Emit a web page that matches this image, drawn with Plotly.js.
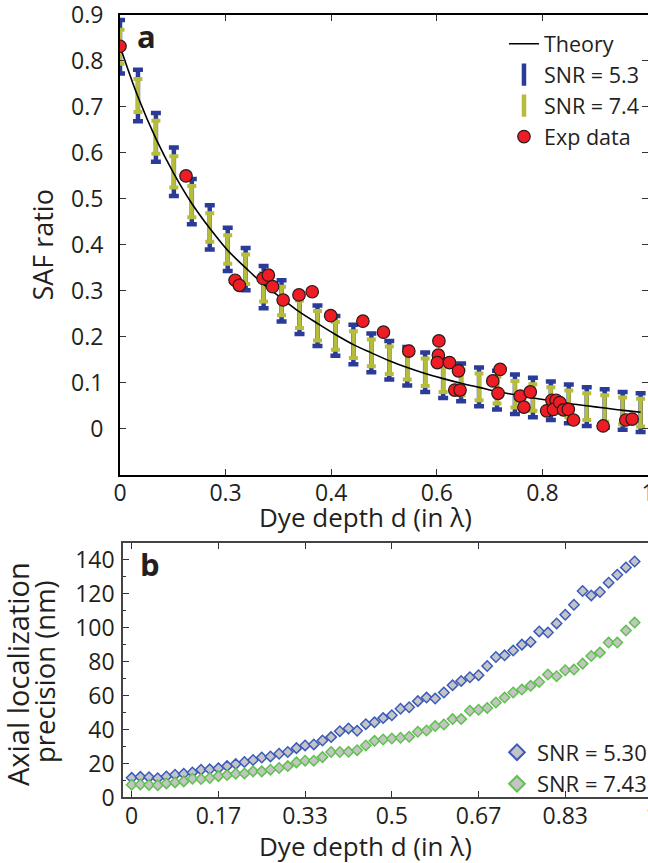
<!DOCTYPE html>
<html>
<head>
<meta charset="utf-8">
<script src="https://cdn.plot.ly/plotly-3.0.1.min.js"></script>
<style>
html,body{margin:0;padding:0;overflow:hidden;background:#fff;}
#chart{width:660px;height:863px;}
</style>
</head>
<body>
<div id="chart"></div>
<script>
// ---------- Panel a: SAF ratio vs dye depth ----------
const simDepth = [0, 0.034, 0.068, 0.102, 0.136, 0.17, 0.204, 0.238, 0.272, 0.306,
  0.34, 0.374, 0.408, 0.442, 0.476, 0.51, 0.544, 0.578, 0.612, 0.646,
  0.68, 0.714, 0.748, 0.782, 0.816, 0.85, 0.884, 0.918, 0.952, 0.986];
const simMean = [0.831, 0.725, 0.634, 0.559, 0.494, 0.438, 0.390, 0.347, 0.308, 0.278,
  0.249, 0.224, 0.202, 0.183, 0.165, 0.149, 0.136, 0.123, 0.109, 0.101,
  0.091, 0.084, 0.075, 0.068, 0.061, 0.054, 0.048, 0.044, 0.039, 0.035];
const errSNR53 = [0.058, 0.056, 0.053, 0.053, 0.049, 0.048, 0.047, 0.046, 0.046, 0.045,
  0.043, 0.044, 0.043, 0.043, 0.042, 0.042, 0.042, 0.043, 0.042, 0.041,
  0.042, 0.042, 0.043, 0.043, 0.042, 0.042, 0.042, 0.042, 0.041, 0.042];
const errSNR74 = [0.037, 0.036, 0.036, 0.034, 0.034, 0.031, 0.031, 0.032, 0.031, 0.031,
  0.030, 0.032, 0.030, 0.029, 0.029, 0.030, 0.029, 0.030, 0.029, 0.028,
  0.029, 0.029, 0.029, 0.029, 0.029, 0.029, 0.029, 0.029, 0.029, 0.030];
const theorySAF = [0.832, 0.722, 0.631, 0.555, 0.490, 0.436, 0.388, 0.350, 0.314, 0.284,
  0.254, 0.229, 0.205, 0.183, 0.165, 0.148, 0.133, 0.120, 0.109, 0.099,
  0.090, 0.081, 0.074, 0.067, 0.061, 0.055, 0.050, 0.045, 0.040, 0.036];
const expDepth = [0, 0.125, 0.218, 0.226, 0.271, 0.281, 0.289, 0.309, 0.339, 0.364,
  0.399, 0.460, 0.499, 0.547, 0.604, 0.603, 0.601, 0.624, 0.641, 0.634,
  0.644, 0.720, 0.706, 0.716, 0.758, 0.777, 0.765, 0.808, 0.818, 0.826,
  0.821, 0.833, 0.840, 0.849, 0.859, 0.915, 0.958, 0.970];
const expSAF = [0.832, 0.550, 0.323, 0.312, 0.327, 0.334, 0.309, 0.280, 0.291, 0.298,
  0.246, 0.234, 0.210, 0.169, 0.191, 0.160, 0.144, 0.144, 0.126, 0.084,
  0.084, 0.129, 0.104, 0.077, 0.071, 0.080, 0.047, 0.039, 0.062, 0.062,
  0.042, 0.057, 0.041, 0.042, 0.019, 0.006, 0.019, 0.021];
const aTickVals = [0, 0.2, 0.4, 0.6, 0.8, 1];
const aTickText = ['0', '0.3', '0.4', '0.6', '0.8', '1'];
const aYTickVals = [0, 0.1, 0.2, 0.3, 0.4, 0.5, 0.6, 0.7, 0.8, 0.9];
const aYTickText = ['0', '0.1', '0.2', '0.3', '0.4', '0.5', '0.6', '0.7', '0.8', '0.9'];

// ---------- Panel b: axial localization precision ----------
const precDepth = [0, 0.0167, 0.0333, 0.05, 0.0667, 0.0833, 0.1, 0.1167, 0.1333, 0.15,
  0.1667, 0.1833, 0.2, 0.2167, 0.2333, 0.25, 0.2667, 0.2833, 0.3, 0.3167,
  0.3333, 0.35, 0.3667, 0.3833, 0.4, 0.4167, 0.4333, 0.45, 0.4667, 0.4833,
  0.5, 0.5167, 0.5333, 0.55, 0.5667, 0.5833, 0.6, 0.6167, 0.6333, 0.65,
  0.6667, 0.6833, 0.7, 0.7167, 0.7333, 0.75, 0.7667, 0.7833, 0.8, 0.8167,
  0.8333, 0.85, 0.8667, 0.8833, 0.9, 0.9167, 0.9333, 0.95, 0.9667];
const precSNR530 = [11.6, 12.2, 12.0, 11.4, 12.4, 13.4, 14.0, 14.8, 16.4, 16.6,
  17.2, 18.5, 19.7, 20.9, 22.1, 23.6, 24.2, 25.8, 26.8, 29.1,
  30.7, 31.3, 33.6, 35.6, 39.1, 40.7, 39.3, 43.2, 44.3, 46.8,
  48.5, 52.3, 53.2, 56.8, 58.9, 58.3, 61.9, 66.2, 68.7, 70.9,
  72.1, 77.5, 82.8, 83.8, 86.6, 90.1, 91.7, 97.9, 97.2, 102.6,
  107.7, 113.6, 121.7, 119.1, 121.1, 126.6, 131.3, 135.6, 139.1];
const precSNR743 = [7.5, 7.7, 7.4, 7.2, 8.3, 8.9, 9.5, 11.1, 10.9, 11.5,
  12.6, 13.2, 14.0, 14.2, 15.4, 15.4, 16.4, 17.4, 18.5, 20.7,
  21.7, 21.7, 23.8, 26.8, 26.8, 26.9, 27.9, 30.7, 33.4, 34.2,
  34.8, 35.2, 35.8, 38.7, 39.5, 42.1, 43.0, 46.2, 46.2, 51.1,
  51.7, 52.8, 56.0, 58.9, 61.9, 63.6, 65.8, 68.1, 72.5, 71.5,
  75.0, 75.4, 78.9, 83.4, 85.4, 91.3, 91.3, 98.4, 103.1];
const bTickVals = [0, 0.1667, 0.3333, 0.5, 0.6667, 0.8333, 1];
const bTickText = ['0', '0.17', '0.33', '0.5', '0.67', '0.83', '1'];

const BLUE = '#2b3c98';
const YEL = '#b6bd3a';
const FONT = '"Open Sans", "Noto Sans", sans-serif';
const TXT = '#231f20';

const traces = [
  {x: simDepth, y: simMean, xaxis: 'x', yaxis: 'y', type: 'scatter', mode: 'markers',
   marker: {size: 2, opacity: 0}, showlegend: false, hoverinfo: 'skip',
   error_y: {type: 'data', array: errSNR53, visible: true, color: BLUE, thickness: 4.5, width: 5}},
  {x: simDepth, y: simMean, xaxis: 'x', yaxis: 'y', type: 'scatter', mode: 'markers',
   marker: {size: 2, opacity: 0}, showlegend: false, hoverinfo: 'skip',
   error_y: {type: 'data', array: errSNR74, visible: true, color: YEL, thickness: 4, width: 4.5}},
  {x: simDepth, y: theorySAF, xaxis: 'x', yaxis: 'y', type: 'scatter', mode: 'lines',
   line: {color: '#000', width: 1.6, shape: 'spline'}, name: 'Theory', legend: 'legend', legendrank: 1},
  {x: [null], y: [null], xaxis: 'x', yaxis: 'y', type: 'scatter', mode: 'markers',
   marker: {symbol: 'line-ns-open', size: 16, color: BLUE, line: {color: BLUE, width: 4.5}},
   name: 'SNR = 5.3', legend: 'legend', legendrank: 2},
  {x: [null], y: [null], xaxis: 'x', yaxis: 'y', type: 'scatter', mode: 'markers',
   marker: {symbol: 'line-ns-open', size: 16, color: YEL, line: {color: YEL, width: 4.5}},
   name: 'SNR = 7.4', legend: 'legend', legendrank: 3},
  {x: expDepth, y: expSAF, xaxis: 'x', yaxis: 'y', type: 'scatter', mode: 'markers',
   marker: {symbol: 'circle', size: 12.5, color: '#ee1c24', line: {color: '#2a1a1a', width: 1.2}},
   name: 'Exp data', legend: 'legend', legendrank: 4},
  {x: precDepth, y: precSNR530, xaxis: 'x2', yaxis: 'y2', type: 'scatter', mode: 'markers',
   marker: {symbol: 'diamond', size: 8, color: '#c4c4c4', line: {color: '#3a5bbd', width: 1.5}},
   name: 'SNR = 5.30', legend: 'legend2'},
  {x: precDepth, y: precSNR743, xaxis: 'x2', yaxis: 'y2', type: 'scatter', mode: 'markers',
   marker: {symbol: 'diamond', size: 8, color: '#c4c4c4', line: {color: '#5fc24f', width: 1.5}},
   name: 'SNR = 7.43', legend: 'legend2'}
];

const axCommon = {
  showgrid: false, zeroline: false, showline: true, mirror: 'ticks',
  ticks: 'inside', ticklen: 6, tickwidth: 1, tickcolor: '#333',
  ticklabeloverflow: 'allow',
  tickfont: {family: FONT, size: 23, color: TXT}
};

const layout = {
  width: 660, height: 863,
  margin: {l: 0, r: 0, t: 0, b: 0},
  paper_bgcolor: '#fff', plot_bgcolor: '#fff',
  font: {family: FONT, size: 22, color: TXT},
  showlegend: true,
  xaxis: Object.assign({}, axCommon, {
    domain: [0.18182, 0.98182], range: [0, 1], anchor: 'y',
    tickmode: 'array', tickvals: aTickVals, ticktext: aTickText,
    linecolor: '#000', linewidth: 2, ticklabelstandoff: -3
  }),
  yaxis: Object.assign({}, axCommon, {
    domain: [0.44994, 0.98262], range: [-0.1, 0.9], anchor: 'x',
    tickmode: 'array', tickvals: aYTickVals, ticktext: aYTickText,
    linecolor: '#000', linewidth: 2, ticklabelstandoff: 10,
    title: {text: 'SAF ratio', font: {family: FONT, size: 27, color: TXT}, standoff: 10}
  }),
  xaxis2: Object.assign({}, axCommon, {
    domain: [0.18591, 0.99242], range: [-0.0173, 1.0058], anchor: 'y2',
    tickmode: 'array', tickvals: bTickVals, ticktext: bTickText,
    linecolor: '#444', linewidth: 1.5, ticklabelstandoff: -3
  }),
  yaxis2: Object.assign({}, axCommon, {
    domain: [0.0759, 0.3708], range: [0, 150], anchor: 'x2',
    tickmode: 'linear', tick0: 0, dtick: 20,
    minor: {ticks: 'inside', dtick: 10, ticklen: 3, tickcolor: '#333'},
    linecolor: '#444', linewidth: 1.5, ticklabelstandoff: 2
  }),
  legend: {x: 0.7636, y: 0.9731, xanchor: 'left', yanchor: 'top', bgcolor: 'rgba(0,0,0,0)',
    font: {family: FONT, size: 21.5, color: TXT}, itemsizing: 'trace', tracegroupgap: 0, itemwidth: 30},
  legend2: {x: 0.753, y: 0.1525, xanchor: 'left', yanchor: 'top', bgcolor: 'rgba(0,0,0,0)',
    font: {family: FONT, size: 22, color: TXT}, itemsizing: 'constant', tracegroupgap: 0, itemwidth: 30},
  annotations: [
    {text: '<b>a</b>', xref: 'paper', yref: 'paper', x: 0.2045, y: 0.9583, xanchor: 'left', yanchor: 'middle',
     showarrow: false, font: {family: FONT, size: 31, color: TXT}},
    {text: '<b>b</b>', xref: 'paper', yref: 'paper', x: 0.209, y: 0.347, xanchor: 'left', yanchor: 'middle',
     showarrow: false, font: {family: FONT, size: 31, color: TXT}},
    // axis titles placed as in the reference
    {text: 'Dye depth d (in λ)', xref: 'paper', yref: 'paper', x: 0.5545, y: 0.4010,
     xanchor: 'center', yanchor: 'middle', showarrow: false, font: {family: FONT, size: 26, color: TXT}},
    {text: 'Dye depth d (in λ)', xref: 'paper', yref: 'paper', x: 0.5545, y: 0.0197,
     xanchor: 'center', yanchor: 'middle', showarrow: false, font: {family: FONT, size: 26, color: TXT}},
    {text: 'Axial localization', xref: 'paper', yref: 'paper', x: 0.0258, y: 0.2190, textangle: -90,
     xanchor: 'center', yanchor: 'middle', showarrow: false, font: {family: FONT, size: 29, color: TXT}},
    {text: 'precision (nm)', xref: 'paper', yref: 'paper', x: 0.0667, y: 0.2213, textangle: -90,
     xanchor: 'center', yanchor: 'middle', showarrow: false, font: {family: FONT, size: 27.5, color: TXT}}
  ]
};

Plotly.newPlot('chart', traces, layout, {displayModeBar: false, staticPlot: true});
</script>
</body>
</html>
